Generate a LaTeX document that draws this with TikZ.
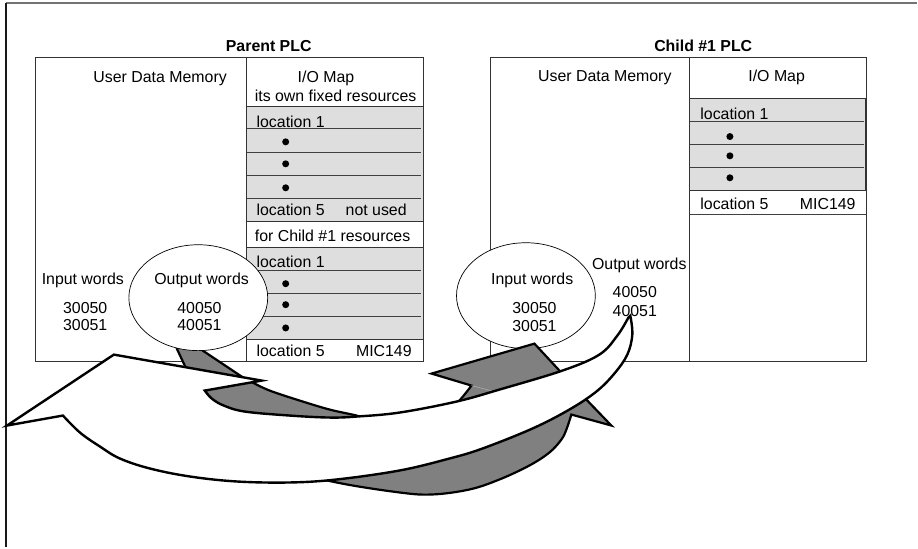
\documentclass[tikz,border=0pt]{standalone}
\usepackage{fontspec}
\setmainfont{Liberation Sans}
\usetikzlibrary{shapes.geometric}
\begin{document}
\begin{tikzpicture}[x=1pt,y=-1pt,
  txt/.style={inner sep=0pt, font=\fontsize{15.9}{18}\selectfont},
  title/.style={inner sep=0pt, font=\fontsize{15.9}{18}\selectfont\bfseries},
  boxline/.style={draw=black!80, line width=0.9pt},
  cell/.style={fill=black!13, draw=black!80, line width=0.9pt},
  sepline/.style={draw=black!75, line width=0.9pt},
  bullet/.style={circle, fill=black, inner sep=0pt, minimum size=7pt},
  bubble/.style={ellipse, draw=black, fill=white, line width=0.7pt, inner sep=0pt,
                 minimum width=139pt, minimum height=106pt},
  grayband/.style={fill=black!50, draw=black, line width=2.2pt, line join=miter},
  whiteband/.style={fill=white, draw=black, line width=2.4pt, line join=miter}]

% page and frame
\fill[white] (0,0) rectangle (918,548);
\draw[black!55, line width=2pt] (6,3) -- (918,3);
\draw[black!90, line width=1.2pt] (6,3) -- (6,548);

% ---------------- Parent PLC ----------------
\filldraw[cell] (247,107) rectangle (423.5,222);
\foreach \yy in {129,153,176,199} \draw[sepline] (247,\yy) -- (421,\yy);
\filldraw[cell] (247,248) rectangle (423.5,340);
\foreach \yy in {270.7,293.3,316.7} \draw[sepline] (247,\yy) -- (421,\yy);
\draw[boxline] (35,58) rectangle (424,362);
\draw[boxline] (247,58) -- (247,362);

\node[title, anchor=base] (ptitle) at (269,51.5) {Parent PLC};
\node[txt, anchor=base] (pudm) at (160.3,82.5) {User Data Memory};
\node[txt, anchor=base] (pio) at (326.3,82.5) {I/O Map};
\node[txt, anchor=base] (pown) at (336,101.5) {its own fixed resources};
\node[txt, anchor=base west] (pla) at (256.7,127.3) {location 1};
\node[bullet] (pda) at (286,142) {};
\node[bullet] (pdb) at (286,164) {};
\node[bullet] (pdc) at (286,188) {};
\node[txt, anchor=base west] (plb) at (256.7,216) {location 5};
\node[txt, anchor=base east] (pnu) at (407.3,216) {not used};
\node[txt, anchor=base west] (pfor) at (255,241.5) {for Child \#1 resources};
\node[txt, anchor=base west] (plc) at (256.7,267.5) {location 1};
\node[bullet] (pdd) at (286,284) {};
\node[bullet] (pde) at (286,305) {};
\node[bullet] (pdf) at (286,328.3) {};
\node[txt, anchor=base west] (pld) at (256.7,356.5) {location 5};
\node[txt, anchor=base east] (pmic) at (412.3,356.5) {MIC149};
\node[txt, anchor=base] (pin) at (82.9,285) {Input words};
\node[txt, anchor=base] (pina) at (85.3,314) {30050};
\node[txt, anchor=base] (pinb) at (85.3,331) {30051};

% ---------------- Child #1 PLC ----------------
\filldraw[cell] (690,99) rectangle (866.7,191);
\foreach \yy in {121.7,145,167.7} \draw[sepline] (690,\yy) -- (865,\yy);
\draw[sepline] (690,214.3) -- (866.7,214.3);
\draw[boxline] (490.7,58) rectangle (867.7,362);
\draw[boxline] (690,58) -- (690,361);

\node[title, anchor=base] (ctitle) at (704,51.5) {Child \#1 PLC};
\node[txt, anchor=base] (cudm) at (605.5,82) {User Data Memory};
\node[txt, anchor=base] (cio) at (777.5,82) {I/O Map};
\node[txt, anchor=base west] (cla) at (701,119.5) {location 1};
\node[bullet] (cda) at (730.7,136.7) {};
\node[bullet] (cdb) at (730.7,156) {};
\node[bullet] (cdc) at (730.7,178) {};
\node[txt, anchor=base west] (clb) at (701,209.5) {location 5};
\node[txt, anchor=base east] (cmic) at (856.7,209.5) {MIC149};

\node[bubble] (cbub) at (526.5,296) {};
\node[txt, anchor=base] (cin) at (532.8,285) {Input words};
\node[txt, anchor=base] (cina) at (535,314.3) {30050};
\node[txt, anchor=base] (cinb) at (535,331.7) {30051};
\node[txt, anchor=base] (cout) at (640,270) {Output words};
\node[txt, anchor=base] (couta) at (635.5,298.3) {40050};
\node[txt, anchor=base] (coutb) at (635.5,316.7) {40051};

% ---------------- exchange arrows ----------------
% grey band: from the parent output words round the back to the child input words
\filldraw[grayband] (172,330) -- (177,349) -- (185,366)
  -- plot[smooth, tension=0.6] coordinates {(185,366) (200,400) (240,440) (290,470)
        (337,483) (400,493) (433,495) (470,490) (500,480) (530,466) (550,453)
        (562,440) (567,430) (572,415)}
  -- (612,426) -- (587,400) -- (535,344) -- (432,374) -- (472,386)
  -- plot[smooth, tension=0.6] coordinates {(472,386) (458,403) (440,418) (400,425)
        (370,420) (357,416) (330,410) (300,401) (270,391) (253,383)}
  -- (242,377) -- (203,351) -- (205,330) -- cycle;
\draw[black!30, line width=0.5pt] (472,386) -- (497,392.5);

\node[bubble] (pbub) at (198.5,298) {};
\node[txt, anchor=base] (pout) at (201.8,285) {Output words};
\node[txt, anchor=base] (pouta) at (199.7,314) {40050};
\node[txt, anchor=base] (poutb) at (199.7,331) {40051};

% white band: from the child output words round the front to the left
\filldraw[whiteband] (7,426) -- (114,355) -- (262,381) -- (205,391)
  -- plot[smooth, tension=0.6] coordinates {(205,391) (212,399) (224,406) (245,412)
        (290,416) (330,418) (357,417) (400,413) (457,402) (500,390) (563,371)
        (600,355) (618,336) (629,318)}
  -- (631,316)
  -- plot[smooth, tension=0.6] coordinates {(631,316) (633,335) (628,355) (615,374)
        (597,392) (570,410) (533,429) (483,449) (450,459) (400,471) (337,480)
        (290,483) (237,482) (190,477) (150,469) (120,459) (100,447) (80,433)
        (63,416)}
  -- cycle;

\end{tikzpicture}
\end{document}
